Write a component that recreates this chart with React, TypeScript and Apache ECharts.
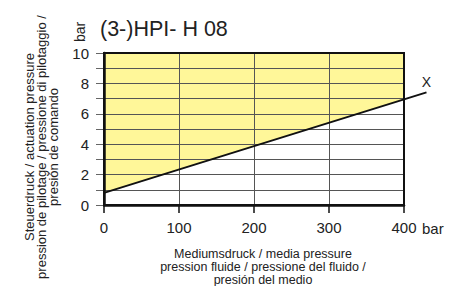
import React, { useEffect, useRef } from "react";
import * as echarts from "echarts";

const title = "(3-)HPI- H 08";
const yAxisTitle = "Steuerdruck / actuation pressure\npression de pilotage / pressione di pilotaggio /\npresión de comando";
const xAxisTitleLines = ["Mediumsdruck / media pressure", "pression fluide / pressione del fluido /", "presión del medio"];
const unit = "bar";
const curveLabel = "X";

// media pressure (bar) vs actuation pressure (bar)
const mediaPressure = [0, 400, 430];
const actuationPressure = [0.8, 6.95, 7.41];

const font = "Arial, 'Liberation Sans', sans-serif";

export default function App() {
  const ref = useRef<HTMLDivElement>(null);
  useEffect(() => {
    if (!ref.current) return;
    const chart = echarts.init(ref.current, null, { renderer: "svg" });
    const lineData: any[] = mediaPressure.map((x, i) => [x, actuationPressure[i]]);
    const areaData = lineData.filter((d) => d[0] <= 400);
    const last = lineData.length - 1;
    lineData[last] = {
      value: lineData[last],
      label: {
        show: true,
        position: "top",
        distance: 3,
        formatter: curveLabel,
        fontSize: 14,
        color: "#222",
        fontFamily: font,
      },
    };
    chart.setOption({
      animation: false,
      textStyle: { fontFamily: font },
      grid: [
        {
          left: 104,
          right: 55,
          top: 53,
          bottom: 81,
          show: true,
          borderColor: "#111",
          borderWidth: 2,
          backgroundColor: "transparent",
          z: 4,
        },
        { left: 104, right: 32.5, top: 53, bottom: 81, show: false },
      ],
      xAxis: [
        {
          type: "value",
          gridIndex: 0,
          min: 0,
          max: 400,
          interval: 100,
          z: 3,
          axisLine: { lineStyle: { color: "#111", width: 2.5 } },
          axisTick: { show: true, length: 8, lineStyle: { color: "#111", width: 1.5 } },
          axisLabel: { fontSize: 15, color: "#222", margin: 15, fontFamily: font },
          splitLine: { show: true, lineStyle: { color: "#555", width: 1 } },
        },
        {
          type: "value",
          gridIndex: 1,
          min: 0,
          max: 430,
          show: false,
          splitLine: { show: false },
        },
      ],
      yAxis: [
        {
          type: "value",
          gridIndex: 0,
          min: 0,
          max: 10,
          interval: 1,
          z: 3,
          axisLine: { show: true, lineStyle: { color: "#111", width: 2.5 } },
          axisTick: { show: true, length: 8, lineStyle: { color: "#666", width: 1 } },
          axisLabel: {
            fontSize: 15,
            color: "#222",
            margin: 15,
            fontFamily: font,
            formatter: (v: number) => (v % 2 === 0 ? String(v) : ""),
          },
          splitLine: { show: true, lineStyle: { color: "#555", width: 1 } },
        },
        {
          type: "value",
          gridIndex: 1,
          min: 0,
          max: 10,
          show: false,
          splitLine: { show: false },
        },
      ],
      series: [
        {
          type: "line",
          xAxisIndex: 0,
          yAxisIndex: 0,
          data: areaData,
          symbol: "none",
          lineStyle: { width: 0 },
          areaStyle: { origin: "end", color: "#fff799", opacity: 1 },
          z: 1,
          silent: true,
        },
        {
          type: "line",
          xAxisIndex: 1,
          yAxisIndex: 1,
          data: lineData,
          symbol: "circle",
          symbolSize: 0,
          showSymbol: true,
          itemStyle: { color: "#111" },
          lineStyle: { color: "#111", width: 2 },
          z: 5,
        },
      ],
      graphic: [
        {
          type: "text",
          left: 100,
          top: 18,
          style: { text: title, fill: "#222", font: `21.5px ${font}` },
        },
        {
          type: "text",
          x: 80,
          y: 32,
          rotation: Math.PI / 2,
          style: {
            text: unit,
            fill: "#222",
            font: `14px ${font}`,
            align: "center",
            verticalAlign: "middle",
          },
        },
        {
          type: "text",
          x: 41,
          y: 147,
          rotation: Math.PI / 2,
          style: {
            text: yAxisTitle,
            fill: "#222",
            font: `13px ${font}`,
            lineHeight: 12,
            align: "center",
            verticalAlign: "middle",
          },
        },
        ...xAxisTitleLines.map((t, i) => ({
          type: "text",
          x: 263,
          y: 254 + i * 13,
          style: {
            text: t,
            fill: "#222",
            font: `12.5px ${font}`,
            align: "center",
            verticalAlign: "middle",
          },
        })),
        {
          type: "text",
          x: 422,
          y: 228,
          style: {
            text: unit,
            fill: "#222",
            font: `15px ${font}`,
            align: "left",
            verticalAlign: "middle",
          },
        },
      ],
    });
    return () => chart.dispose();
  }, []);
  return <div ref={ref} style={{ width: 459, height: 286, position: "absolute", left: 0, top: 0 }} />;
}
